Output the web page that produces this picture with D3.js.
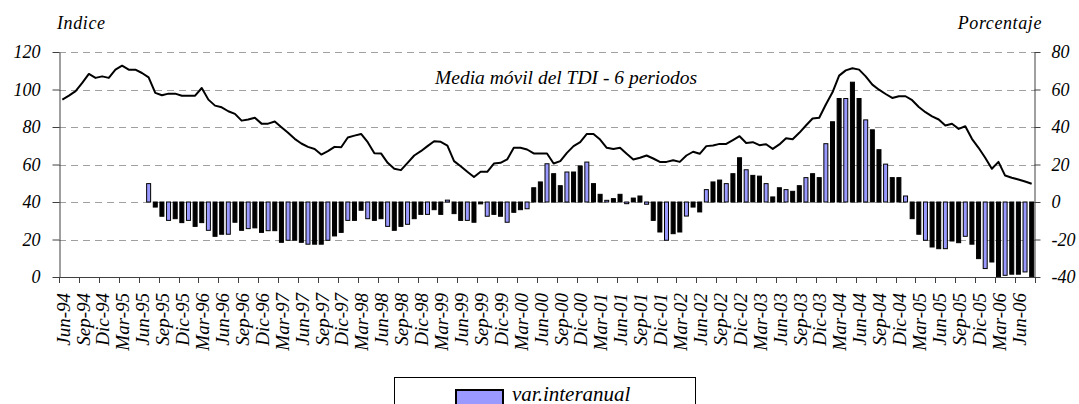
<!DOCTYPE html>
<html>
<head>
<meta charset="utf-8">
<script src="https://cdn.jsdelivr.net/npm/d3@7"></script>
<style>
  html, body { margin: 0; padding: 0; background: #fff; }
  svg { display: block; }
  text { font-family: "Liberation Serif", "Times New Roman", serif; font-style: italic; fill: #000; }
</style>
</head>
<body>
<svg id="chart" width="1079" height="404"></svg>
<script>
// Monthly categories, Jun-94 through Ago-06
const monthNames = ["Ene", "Feb", "Mar", "Abr", "May", "Jun", "Jul", "Ago", "Sep", "Oct", "Nov", "Dic"];
const months = [];
for (let i = 0; i < 147; i++) {
  const m = (5 + i) % 12;
  const yy = (94 + Math.floor((5 + i) / 12)) % 100;
  months.push(monthNames[m] + "-" + String(yy).padStart(2, "0"));
}

// Quarterly axis labels
const tickLabels = [
  "Jun-94", "Sep-94", "Dic-94", "Mar-95", "Jun-95", "Sep-95", "Dic-95", "Mar-96", "Jun-96", "Sep-96",
  "Dic-96", "Mar-97", "Jun-97", "Sep-97", "Dic-97", "Mar-98", "Jun-98", "Sep-98", "Dic-98", "Mar-99",
  "Jun-99", "Sep-99", "Dic-99", "Mar-00", "Jun-00", "Sep-00", "Dic-00", "Mar-01", "Jun-01", "Sep-01",
  "Dic-01", "Mar-02", "Jun-02", "Sep-02", "Dic-02", "Mar-03", "Jun-03", "Sep-03", "Dic-03", "Mar-04",
  "Jun-04", "Sep-04", "Dic-04", "Mar-05", "Jun-05", "Sep-05", "Dic-05", "Mar-06", "Jun-06"
];

// Media móvil del TDI (6 periodos), índice — left axis
const mediaMovil = [
  94.6, 96.7, 99.1, 103.5, 108.3, 106.2, 107.0, 106.2, 110.6, 112.7, 110.6, 110.6,
  108.8, 106.5, 98.2, 96.9, 97.8, 97.8, 96.7, 96.7, 96.7, 100.8, 94.6, 91.4,
  90.5, 88.4, 87.0, 83.4, 84.0, 84.9, 81.8, 81.8, 82.9, 79.9, 76.9, 73.7,
  71.2, 69.4, 68.3, 65.3, 67.1, 69.4, 69.2, 74.4, 75.4, 76.3, 71.9, 66.0,
  65.9, 60.9, 57.7, 57.0, 60.9, 64.8, 67.1, 69.8, 72.4, 72.1, 70.1, 61.8,
  59.1, 56.1, 53.3, 56.1, 56.1, 60.5, 60.9, 62.7, 68.9, 68.9, 68.0, 65.9,
  65.9, 65.9, 60.5, 61.8, 66.2, 69.8, 71.9, 76.3, 76.3, 73.3, 68.9, 68.3,
  68.9, 65.7, 62.7, 63.6, 64.8, 63.2, 61.4, 61.4, 62.3, 61.4, 64.8, 66.8,
  65.7, 69.8, 70.1, 71.0, 71.0, 73.0, 75.1, 71.5, 71.9, 70.3, 70.8, 68.3,
  70.7, 74.0, 73.5, 76.9, 80.8, 84.5, 84.9, 92.0, 98.5, 107.4, 110.2, 111.3,
  110.6, 107.0, 102.6, 99.9, 97.6, 95.5, 96.4, 96.4, 94.3, 90.7, 87.9, 85.7,
  84.0, 80.8, 81.7, 79.0, 80.4, 73.7, 68.9, 63.6, 57.7, 61.4, 54.1, 52.9,
  52.0, 50.9, 49.7
];

// Variación interanual (%), from Jul-95 — right axis
const varStart = "Jul-95";
const varInteranual = [
  9.8, -2.7, -7.6, -9.8, -8.9, -11.0, -9.8, -13.0, -11.0, -15.1, -18.3, -17.2,
  -17.2, -10.8, -15.1, -14.2, -13.8, -16.2, -15.3, -15.3, -21.5, -20.4, -20.4, -21.5,
  -22.5, -22.5, -22.5, -20.4, -18.1, -16.2, -9.8, -9.8, -4.4, -8.9, -9.8, -8.9,
  -13.0, -15.1, -13.0, -11.9, -8.9, -6.6, -6.6, -4.1, -6.6, 1.0, -6.2, -9.8,
  -9.8, -10.8, -1.0, -7.6, -6.6, -7.6, -10.8, -5.5, -4.1, -3.6, 7.6, 10.7,
  20.4, 15.1, 8.7, 16.0, 16.0, 19.2, 21.3, 9.8, 4.1, 0.9, 1.8, 4.1,
  -0.9, 2.1, 3.2, -1.2, -9.8, -16.0, -20.4, -16.9, -16.0, -7.5, -2.7, -5.3,
  6.6, 10.7, 11.7, 9.8, 15.1, 23.6, 17.2, 14.2, 13.8, 9.8, 2.7, 7.6,
  6.6, 5.7, 8.7, 13.0, 15.1, 13.0, 31.1, 42.8, 55.2, 55.2, 63.9, 55.2,
  43.8, 38.5, 27.9, 20.2, 13.0, 13.0, 3.2, -8.9, -17.2, -20.4, -24.0, -24.9,
  -24.9, -20.8, -21.7, -18.3, -22.5, -30.2, -35.5, -32.0, -39.9, -39.1, -38.5, -38.5,
  -37.3, -39.9
];

const leftTicks = [0, 20, 40, 60, 80, 100, 120];
const rightTicks = [-40, -20, 0, 20, 40, 60, 80];

const barFills = ["#9999ff", "#000000", "#000000"];
const barBlue = "#9999ff";

const svg = d3.select("#chart");
const plot = { left: 59, right: 1035, top: 52, bottom: 277 };

svg.append("rect").attr("width", 1079).attr("height", 404).attr("fill", "#fff");

const x = d3.scaleBand().domain(months).range([plot.left, plot.right]).paddingInner(0).paddingOuter(0);
const yL = d3.scaleLinear().domain([0, 120]).range([plot.bottom, plot.top]);
const yR = d3.scaleLinear().domain([-40, 80]).range([plot.bottom, plot.top]);
const bw = x.bandwidth();

// Dashed gridlines
svg.append("g")
  .selectAll("line")
  .data(leftTicks.filter(d => d > 0))
  .join("line")
  .attr("x1", plot.left).attr("x2", plot.right)
  .attr("y1", d => Math.round(yL(d)) + 0.5).attr("y2", d => Math.round(yL(d)) + 0.5)
  .attr("stroke", "#a0a0a0").attr("stroke-width", 1).attr("stroke-dasharray", "7,5");

// Bars
const barData = varInteranual.map((v, i) => ({ cat: months[months.indexOf(varStart) + i], v, i }));
const barW = 4;
svg.append("g")
  .selectAll("rect")
  .data(barData)
  .join("rect")
  .attr("x", d => x(d.cat) + (bw - barW) / 2)
  .attr("y", d => Math.min(yR(0), yR(d.v)))
  .attr("width", barW)
  .attr("height", d => Math.abs(yR(d.v) - yR(0)))
  .attr("fill", d => barFills[d.i % 3])
  .attr("stroke", "#000").attr("stroke-width", 1);

// Moving-average line
const line = d3.line().x((d, i) => x(months[i]) + bw / 2).y(d => yL(d));
svg.append("path")
  .datum(mediaMovil)
  .attr("d", line)
  .attr("fill", "none").attr("stroke", "#000").attr("stroke-width", 2).attr("stroke-linejoin", "round");

// Plain hyphen-minus for negative tick values
const plainNum = d => String(d);

// Left axis
const axL = svg.append("g")
  .attr("transform", `translate(${plot.left + 0.5},0)`)
  .call(d3.axisLeft(yL).tickValues(leftTicks).tickSize(7).tickSizeOuter(0).tickPadding(12).tickFormat(plainNum));
// Right axis
const axR = svg.append("g")
  .attr("transform", `translate(${plot.right - 0.5},0)`)
  .call(d3.axisRight(yR).tickValues(rightTicks).tickSize(6).tickSizeOuter(0).tickPadding(11).tickFormat(plainNum));
[axL, axR].forEach(g => {
  g.select(".domain").attr("stroke", "#404040");
  g.selectAll(".tick line").attr("stroke", "#404040");
  g.selectAll(".tick text")
    .attr("font-family", "'Liberation Serif', 'Times New Roman', serif")
    .attr("font-style", "italic").attr("font-size", 18).attr("fill", "#000");
});

// Category axis
const axB = svg.append("g");
axB.append("line")
  .attr("x1", plot.left).attr("x2", plot.right)
  .attr("y1", plot.bottom + 0.5).attr("y2", plot.bottom + 0.5)
  .attr("stroke", "#404040");
const tickXs = tickLabels.map(l => x(l)).concat([plot.right]);
axB.selectAll("line.tk")
  .data(tickXs)
  .join("line").attr("class", "tk")
  .attr("x1", d => Math.round(d) + 0.5).attr("x2", d => Math.round(d) + 0.5)
  .attr("y1", plot.bottom).attr("y2", plot.bottom + 6)
  .attr("stroke", "#404040");
axB.selectAll("text")
  .data(tickLabels)
  .join("text")
  .attr("transform", d => `translate(${x(d) + bw / 2 + 1},${plot.bottom + 16}) rotate(-90)`)
  .attr("text-anchor", "end")
  .attr("dy", "0.33em")
  .attr("font-size", 19)
  .text(d => d);

// Axis titles and series note
svg.append("text").attr("x", 57).attr("y", 29).attr("font-size", 18).attr("letter-spacing", 0.6).text("Indice");
svg.append("text").attr("x", 1042).attr("y", 29).attr("font-size", 18).attr("letter-spacing", 0.6)
  .attr("text-anchor", "end").text("Porcentaje");
svg.append("text").attr("x", 435).attr("y", 84).attr("font-size", 19.5).text("Media móvil del TDI - 6 periodos");

// Legend
const lg = svg.append("g");
lg.append("rect").attr("x", 394.5).attr("y", 377.5).attr("width", 301).attr("height", 60)
  .attr("fill", "#fff").attr("stroke", "#000").attr("stroke-width", 1);
lg.append("rect").attr("x", 456).attr("y", 390).attr("width", 47).attr("height", 16)
  .attr("fill", barBlue).attr("stroke", "#000").attr("stroke-width", 2);
lg.append("text").attr("x", 512).attr("y", 401).attr("font-size", 21).text("var.interanual");
</script>
</body>
</html>
